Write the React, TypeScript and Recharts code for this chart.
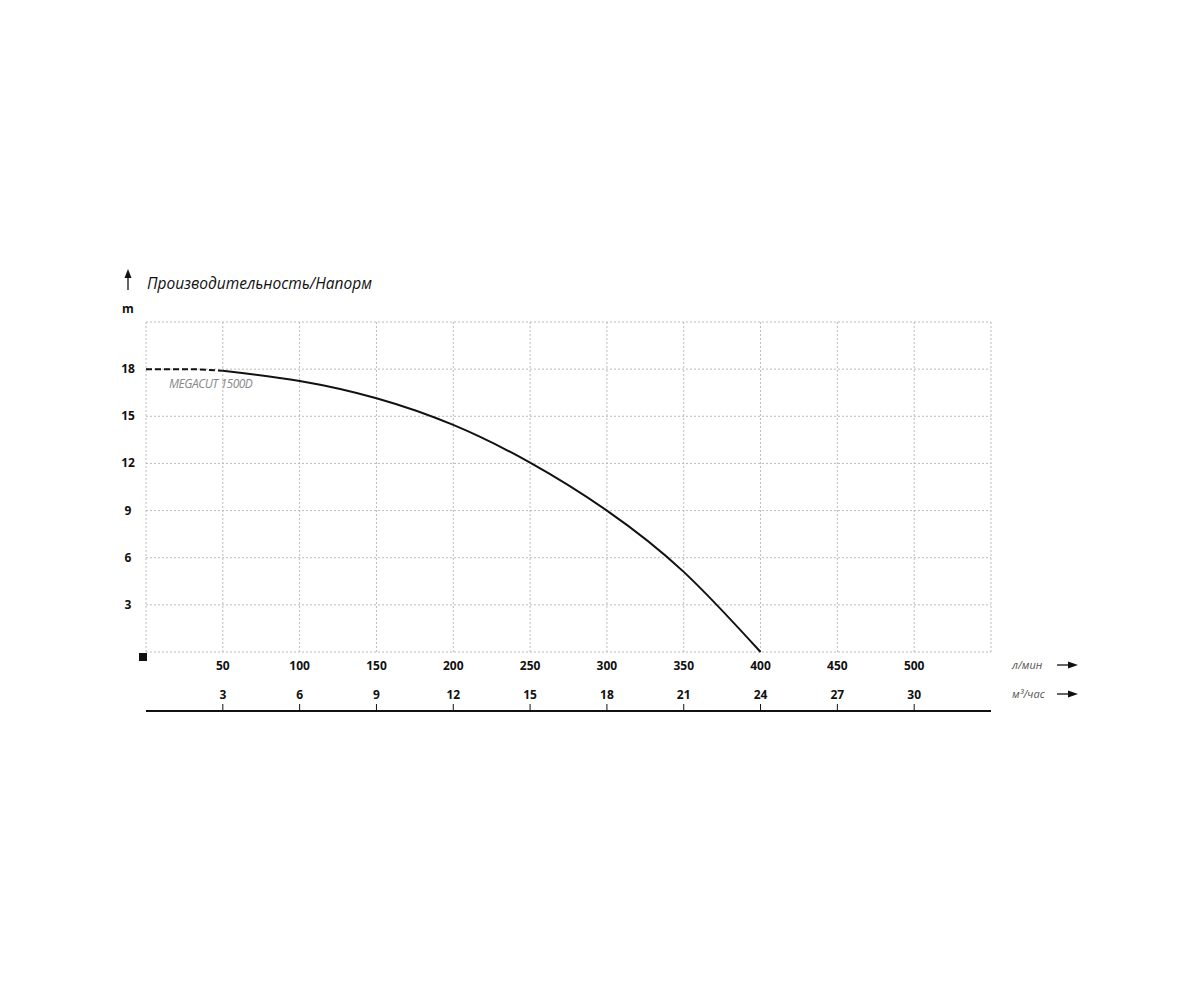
import { CartesianGrid, Line, LineChart, XAxis, YAxis } from 'recharts'

const flow = [0, 25, 50, 100, 150, 200, 250, 300, 350, 400]
const headDashed = [18, 18, 17.9, null, null, null, null, null, null, null]
const headSolid = [null, null, 17.9, 17.25, 16.15, 14.45, 12.05, 9.0, 5.1, 0]

const flowTicks = [0, 50, 100, 150, 200, 250, 300, 350, 400, 450, 500, 550]
const cubicTicks = [50, 100, 150, 200, 250, 300, 350, 400, 450, 500]
const headTicks = [0, 3, 6, 9, 12, 15, 18, 21]

const data = flow.map((q, i) => ({ q, dashed: headDashed[i], solid: headSolid[i] }))

const font = '"Open Sans", sans-serif'

function FlowTick({ x, payload }: any) {
  const v = payload.value
  if (v === 0) return <rect x={x - 7} y={653} width={8} height={8} fill="#111" />
  if (v > 500) return null
  return (
    <text x={x} y={670} textAnchor="middle" fontFamily={font} fontWeight={700} fontSize={12} fill="#111">
      {v}
    </text>
  )
}

function CubicTick({ x, payload }: any) {
  return (
    <g>
      <line x1={x} x2={x} y1={704} y2={711} stroke="#111" strokeWidth={1} />
      <text x={x} y={699} textAnchor="middle" fontFamily={font} fontWeight={700} fontSize={12} fill="#111">
        {Math.round(payload.value * 0.06)}
      </text>
    </g>
  )
}

function HeadTick({ y, payload }: any) {
  const v = payload.value
  if (v === 0 || v === 21) return null
  return (
    <text x={128} y={y + 4} textAnchor="middle" fontFamily={font} fontWeight={700} fontSize={12} fill="#111">
      {v}
    </text>
  )
}

export default function App() {
  return (
    <div style={{ position: 'absolute', left: 0, top: 0, width: 1200, height: 982, background: '#fff' }}>
      <LineChart width={1200} height={982} data={data} margin={{ top: 322, right: 209, left: 106, bottom: 251 }}>
        <CartesianGrid stroke="#bbb" strokeDasharray="2 2" />
        <XAxis
          dataKey="q"
          type="number"
          domain={[0, 550]}
          ticks={flowTicks}
          axisLine={false}
          tickLine={false}
          height={59}
          tick={<FlowTick />}
          interval={0}
        />
        <XAxis
          xAxisId="m3"
          dataKey="q"
          type="number"
          domain={[0, 550]}
          ticks={cubicTicks}
          axisLine={{ stroke: '#111', strokeWidth: 2 }}
          tickLine={false}
          height={20}
          tick={<CubicTick />}
          interval={0}
        />
        <YAxis
          type="number"
          domain={[0, 21]}
          ticks={headTicks}
          axisLine={false}
          tickLine={false}
          width={40}
          tick={<HeadTick />}
          interval={0}
        />
        <Line
          dataKey="dashed"
          type="monotone"
          stroke="#111"
          strokeWidth={2}
          strokeDasharray="6 3"
          dot={false}
          connectNulls={false}
          isAnimationActive={false}
        />
        <Line
          dataKey="solid"
          type="natural"
          stroke="#111"
          strokeWidth={2}
          dot={false}
          connectNulls={false}
          isAnimationActive={false}
        />
      </LineChart>
      <svg width={1200} height={982} style={{ position: 'absolute', left: 0, top: 0, pointerEvents: 'none' }}>
        <line x1={128} x2={128} y1={290} y2={276} stroke="#111" strokeWidth={1.3} />
        <polygon points="124.5,278 128,269 131.5,278" fill="#111" />
        <text x={147} y={289} fontFamily={font} fontStyle="italic" fontSize={15.5} fill="#111">
          Производительность/Напорм
        </text>
        <text x={128} y={313} textAnchor="middle" fontFamily={font} fontWeight={700} fontSize={12} fill="#111">
          m
        </text>
        <text x={169} y={388} fontFamily={font} fontStyle="italic" fontSize={12} fill="#888" letterSpacing={-0.5}>
          MEGACUT 1500D
        </text>
        <text x={1012} y={669} fontFamily={font} fontStyle="italic" fontSize={11} fill="#555">
          л/мин
        </text>
        <line x1={1057} x2={1070} y1={665} y2={665} stroke="#111" strokeWidth={1.3} />
        <polygon points="1068,661.5 1078,665 1068,668.5" fill="#111" />
        <text x={1012} y={698} fontFamily={font} fontStyle="italic" fontSize={11} fill="#555">
          м³/час
        </text>
        <line x1={1057} x2={1070} y1={694} y2={694} stroke="#111" strokeWidth={1.3} />
        <polygon points="1068,690.5 1078,694 1068,697.5" fill="#111" />
      </svg>
    </div>
  )
}
